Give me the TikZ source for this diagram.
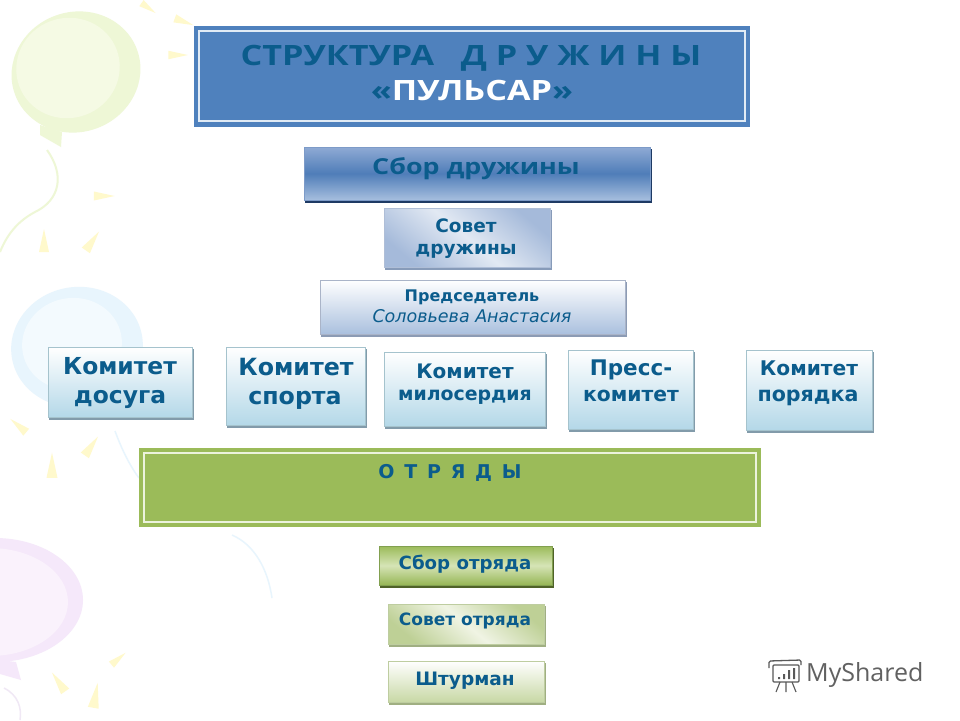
\documentclass[tikz,border=0pt]{standalone}
\usepackage{fontspec}
\setmainfont{DejaVu Sans}
\newfontfamily\titlefont[FakeStretch=1.22]{Open Sans}
\newfontfamily\markfont{Open Sans}
\definecolor{ink}{HTML}{0B5C8C}
\definecolor{titleblue}{HTML}{4F81BD}
\definecolor{olive}{HTML}{9BBB59}
\definecolor{raycol}{HTML}{FFF9CC}
\definecolor{balG}{RGB}{238,247,214}
\definecolor{balGi}{RGB}{245,250,228}
\definecolor{balB}{RGB}{232,245,253}
\definecolor{balBi}{RGB}{243,250,254}
\definecolor{balP}{RGB}{245,232,250}
\definecolor{balPi}{RGB}{250,242,252}
\definecolor{strP}{RGB}{240,232,245}
\definecolor{titleline}{RGB}{225,235,245}
\definecolor{shA}{RGB}{30,58,100}
\definecolor{edA}{RGB}{125,155,200}
\definecolor{sA}{RGB}{143,170,212}
\definecolor{mA}{RGB}{79,125,184}
\definecolor{eA}{RGB}{166,190,222}
\definecolor{shB}{RGB}{135,155,185}
\definecolor{edB}{RGB}{175,190,215}
\definecolor{sB}{RGB}{165,186,218}
\definecolor{mB}{RGB}{226,233,243}
\definecolor{shC}{RGB}{140,155,180}
\definecolor{edC}{RGB}{170,180,200}
\definecolor{eC}{RGB}{170,192,222}
\definecolor{shD}{RGB}{130,155,170}
\definecolor{edD}{RGB}{165,195,205}
\definecolor{eD}{RGB}{180,216,232}
\definecolor{greenline}{RGB}{236,243,220}
\definecolor{shE}{RGB}{79,98,40}
\definecolor{edE}{RGB}{130,160,80}
\definecolor{mE}{RGB}{214,228,182}
\definecolor{eE}{RGB}{150,182,85}
\definecolor{shF}{RGB}{160,175,130}
\definecolor{edF}{RGB}{190,205,160}
\definecolor{sF}{RGB}{190,208,150}
\definecolor{mF}{RGB}{240,244,228}
\definecolor{eG}{RGB}{200,216,165}
\tikzset{
 x=1pt,y=-1pt,
 lab/.style={font=\bfseries\fontsize{#1}{#1}\selectfont,text=ink,inner sep=0pt,text height={.73*#1*1pt},text depth=0pt},
 ttl/.style={font=\titlefont\bfseries\fontsize{#1}{#1}\selectfont,text=ink,inner sep=0pt,text height={.71*#1*1pt},text depth=0pt},
 ray/.style={fill=raycol,draw=none},
}
\newcommand{\btn}[8]{% name x0 y0 x1 y1 shadow edge shadeopts
 \fill[#6] (#2+1,#3+2) rectangle (#4+1.5,#5+3);
 \node[draw=#7,line width=.5pt,inner sep=0pt,minimum width={(#4-#2)*1pt},minimum height={(#5-#3)*1pt},#8] (#1) at ({(#2+#4)/2},{(#3+#5)/2}) {};
}
\newcommand{\bray}[4]{\fill[ray,shift={(#1,#2)},rotate=#3,scale=#4] (0,-14) -- (5,9) -- (-5,9) -- cycle;}
\begin{document}
\begin{tikzpicture}
\useasboundingbox (0,0) rectangle (960,720);
\fill[white] (0,0) rectangle (960,720);
% balloons
\fill[balG,rotate around={20:(76,72)}] (76,72) ellipse (65 and 60);
\fill[balGi,rotate around={20:(68,68)}] (68,68) ellipse (52 and 50);
\fill[balG] (40,125) -- (62,132) -- (61,147) -- (40,135) -- cycle;
\draw[balG,line width=2pt] (47,150) .. controls (65,175) and (60,200) .. (35,212) .. controls (20,220) and (8,232) .. (0,252);
\fill[balB,rotate around={10:(77,347)}] (77,347) ellipse (66 and 60);
\fill[balBi,rotate around={10:(72,344)}] (72,344) ellipse (50 and 46);
\draw[balB,line width=1.5pt] (115,431) .. controls (122,450) and (130,466) .. (139,478);
\draw[balB,line width=1.5pt] (232,535) .. controls (255,545) and (268,570) .. (272,598);
\fill[balP] (-5,600) ellipse (88 and 62);
\fill[balPi] (-10,602) ellipse (78 and 54);
\fill[balP] (0,660) -- (16,662) -- (21,680) -- (0,674) -- cycle;
\draw[strP,line width=1.5pt] (4,688) .. controls (18,695) and (22,708) .. (20,720);
% rays
\bray{147}{7}{-125}{.75}
\bray{182}{21}{-110}{.85}
\bray{176}{55}{-90}{.85}
\bray{102}{196}{-90}{.9}
\bray{44}{243}{0}{1}
\bray{91}{243}{-35}{1}
\bray{20}{427}{50}{.9}
\bray{90}{448}{-35}{1}
\bray{52}{468}{0}{1.1}
\bray{117}{660}{-50}{.8}
\bray{60}{684}{35}{1}
\bray{95}{698}{-10}{1.1}
% title
\node[fill=titleblue,inner sep=0pt,minimum width=556pt,minimum height=101pt] (title) at (472,76.5) {};
\draw[titleline,line width=1.6pt] (199,31) rectangle (745,121);
\node[ttl=28] (t1) at (471,56) {СТРУКТУРА\ \ \ Д Р У Ж И Н Ы};
\node[ttl=28] (t2) at (472,91) {«\textcolor{white}{ПУЛЬСАР}»};
% blue buttons
\btn{sbor}{304}{147}{650}{200}{shA}{edA}{top color=sA,bottom color=eA,middle color=mA}
\node[ttl=22] (sbort) at (476,167) {Сбор дружины};
\btn{sovet}{384}{208}{550}{267}{shB}{edB}{left color=sB,right color=sB,middle color=mB,shading angle=-40}
\node[lab=18.5] (sovet1) at (466,226) {Совет};
\node[lab=18.5] (sovet2) at (466,248) {дружины};
\btn{pred}{320}{280}{625}{334}{shC}{edC}{top color=white,bottom color=eC}
\node[lab=16] (pred1) at (472,296) {Председатель};
\node[font=\itshape\fontsize{17.5}{17.5}\selectfont,text=ink,inner sep=0pt,text height=12.8pt,text depth=0pt] (pred2) at (472,316) {Соловьева Анастасия};
% committees
\newcommand{\cmt}[5]{\btn{#1}{#2}{#3}{#4}{#5}{shD}{edD}{top color=white,bottom color=eD}}
\cmt{c1}{48}{347}{192}{417}
\node[lab=23.4] (c1a) at (120,366) {Комитет};
\node[lab=23.4] (c1b) at (120,395) {досуга};
\cmt{c2}{226}{347}{365}{425}
\node[lab=23.7] (c2a) at (296,367) {Комитет};
\node[lab=23.7] (c2b) at (295,396) {спорта};
\cmt{c3}{384}{352}{545}{426}
\node[lab=20] (c3a) at (465,371) {Комитет};
\node[lab=18.9] (c3b) at (465,394) {милосердия};
\cmt{c4}{568}{350}{693}{429}
\node[lab=21.5] (c4a) at (631,368) {Пресс-};
\node[lab=20.3] (c4b) at (631,394) {комитет};
\cmt{c5}{746}{350}{872}{430}
\node[lab=20.2] (c5a) at (809,368) {Комитет};
\node[lab=20.6] (c5b) at (808,394) {порядка};
% otryady
\node[fill=olive,inner sep=0pt,minimum width=622pt,minimum height=79pt] (otr) at (450,487.5) {};
\draw[greenline,line width=1.6pt] (144,453) rectangle (756,522);
\node[lab=19] (otrt) at (450,472) {О \,Т \,Р \,Я \,Д \,Ы};
% green buttons
\btn{so}{379}{546}{552}{585}{shE}{edE}{top color=olive,bottom color=eE,middle color=mE}
\node[lab=18.2] (sot) at (465,563) {Сбор отряда};
\btn{soo}{388}{604}{544}{644}{shF}{edF}{left color=sF,right color=sF,middle color=mF,shading angle=-40}
\node[lab=17] (soot) at (465,619) {Совет отряда};
\btn{sht}{388}{661}{544}{702}{shF}{edF}{top color=white,bottom color=eG}
\node[lab=18.5] (shtt) at (465,679) {Штурман};
% watermark
\node[font=\markfont\fontsize{25}{25}\selectfont,text=black!62,inner sep=0pt,anchor=west] (mark) at (806,675) {MyShared};
\draw[black!65,line width=1.3pt,rounded corners=1pt] (773,665) rectangle (799,682);
\draw[black!65,line width=1.3pt,rounded corners=1.5pt] (769,668) -- (769,661) -- (801,660) -- (801,665);
\fill[black!65] (778,677) rectangle (780,679) (783,674) rectangle (785,679) (788,670) rectangle (790,679) (793,668) rectangle (795,679);
\draw[black!65,line width=1.1pt] (786,682) -- (786,692) (780,682) -- (776,692) (792,682) -- (796,692);
\end{tikzpicture}
\end{document}
